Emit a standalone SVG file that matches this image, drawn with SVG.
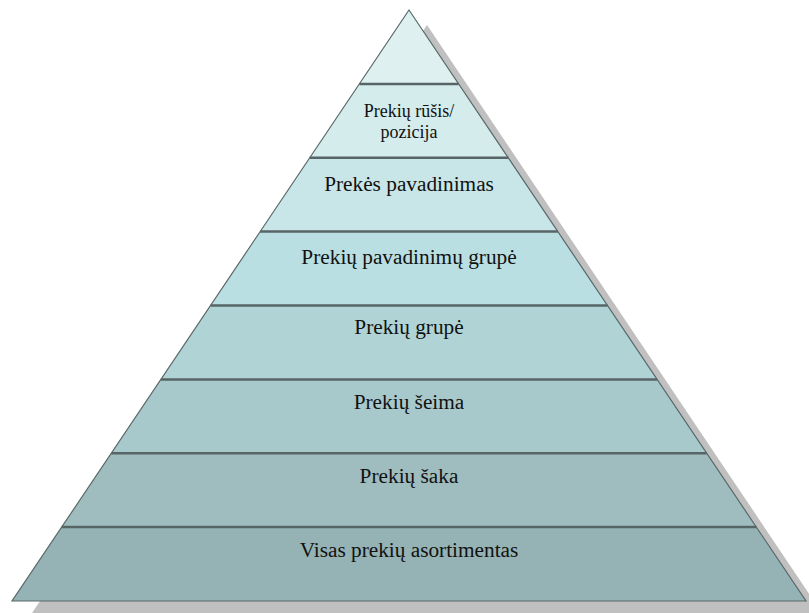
<svg xmlns="http://www.w3.org/2000/svg" width="809" height="613" viewBox="0 0 809 613">
<style>
.lbl{font-family:"Liberation Serif","Times New Roman",serif;font-size:21.3px;fill:#111;text-anchor:middle}
.sm{font-size:18px}
.sep{stroke:#576566;stroke-width:2.5;fill:none}
.edge{stroke:#5a6869;stroke-width:1.2;fill:none;stroke-linejoin:miter}
</style>
<rect width="809" height="613" fill="#ffffff"/>
<polygon id="shadow" points="427,25 824,616 30,616" fill="#c0c0c0"/>
<g id="band1"><polygon points="409,10 458.64,83.9 359.36,83.9" fill="#def0f0"/></g>
<g id="band2"><polygon points="359.36,83.9 458.64,83.9 508.24,157.75 309.76,157.75" fill="#d5ecec"/>
<text class="lbl sm" x="409" y="116.7">Prekių rūšis/</text>
<text class="lbl sm" x="409" y="137.7">pozicija</text></g>
<g id="band3"><polygon points="309.76,157.75 508.24,157.75 557.85,231.6 260.15,231.6" fill="#c8e6e8"/>
<text class="lbl" x="409" y="190.7">Prekės pavadinimas</text></g>
<g id="band4"><polygon points="260.15,231.6 557.85,231.6 607.49,305.5 210.51,305.5" fill="#badfe2"/>
<text class="lbl" x="409" y="264">Prekių pavadinimų grupė</text></g>
<g id="band5"><polygon points="210.51,305.5 607.49,305.5 657.13,379.4 160.87,379.4" fill="#b0d4d6"/>
<text class="lbl" x="409" y="333.5">Prekių grupė</text></g>
<g id="band6"><polygon points="160.87,379.4 657.13,379.4 706.73,453.25 111.27,453.25" fill="#a8c9cb"/>
<text class="lbl" x="409" y="409.3">Prekių šeima</text></g>
<g id="band7"><polygon points="111.27,453.25 706.73,453.25 756.34,527.1 61.66,527.1" fill="#9fbdbf"/>
<text class="lbl" x="409" y="483.3">Prekių šaka</text></g>
<g id="band8"><polygon points="61.66,527.1 756.34,527.1 805.97,601 12.03,601" fill="#95b3b4"/>
<text class="lbl" x="409" y="557.3">Visas prekių asortimentas</text></g>
<g id="connectors">
<line class="sep" x1="359.36" y1="83.9" x2="458.64" y2="83.9"/>
<line class="sep" x1="309.76" y1="157.75" x2="508.24" y2="157.75"/>
<line class="sep" x1="260.15" y1="231.6" x2="557.85" y2="231.6"/>
<line class="sep" x1="210.51" y1="305.5" x2="607.49" y2="305.5"/>
<line class="sep" x1="160.87" y1="379.4" x2="657.13" y2="379.4"/>
<line class="sep" x1="111.27" y1="453.25" x2="706.73" y2="453.25"/>
<line class="sep" x1="61.66" y1="527.1" x2="756.34" y2="527.1"/>
<polygon class="edge" points="409,10 805.97,601 12.03,601"/>
</g>
</svg>
